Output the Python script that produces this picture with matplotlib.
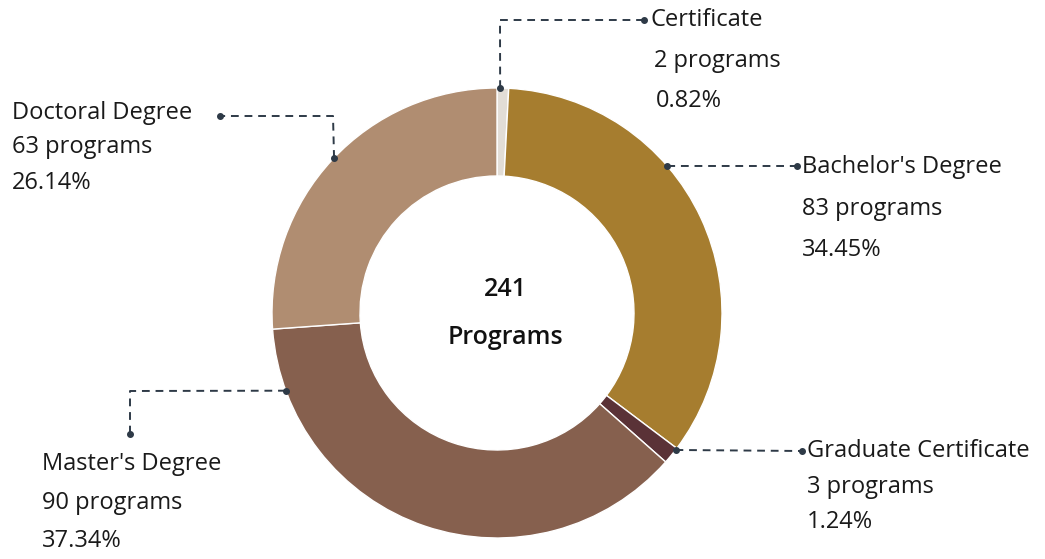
import numpy as np
import matplotlib.pyplot as plt

plt.rcParams['font.family'] = ['Open Sans', 'DejaVu Sans']

# data
categories = ["Certificate", "Bachelor's Degree", "Graduate Certificate",
              "Master's Degree", "Doctoral Degree"]
programs = [2, 83, 3, 90, 63]
percents = ["0.82%", "34.45%", "1.24%", "37.34%", "26.14%"]
colors = ["#E2DDD6", "#A67D2F", "#5A3237", "#86604E", "#B08D71"]
total_label = "241"

W, H = 1045, 559
cx, cy = 497, H - 313
R, ring = 225, 88

fig = plt.figure(figsize=(W / 100, H / 100), dpi=100)
ax = fig.add_axes([0, 0, 1, 1])

ax.pie(programs, colors=colors, startangle=90, counterclock=False,
       center=(cx, cy), radius=R, frame=True,
       wedgeprops=dict(width=ring, edgecolor="white", linewidth=1))

ax.set_xlim(0, W)
ax.set_ylim(0, H)
ax.set_aspect("equal")
ax.axis("off")

ax.text(cx + 8, H - 289, total_label, ha="center", va="center",
        fontsize=18, fontweight="semibold", color="#111111")
ax.text(cx + 8, H - 337, "Programs", ha="center", va="center",
        fontsize=18, fontweight="semibold", color="#111111")

# connector layout: anchor angle on ring, elbow path, end dot, text x, text rows y
anchor_deg = [89.2, 40.8, -37.5, 200.2, 136.4]
paths = [
    [(500, 20), (644, 20)],
    [(797, 166)],
    [(802, 451)],
    [(130, 391), (130, 434)],
    [(333, 116), (220, 116)],
]
text_x = [[650, 654, 656], [802, 802, 802], [807, 807, 807],
          [42, 42, 42], [12, 12, 12]]
text_y = [[20, 61, 101], [167, 209, 250], [451, 487, 522],
          [464, 503, 541], [113, 147, 183]]

line_col = "#2E3A47"
for i, name in enumerate(categories):
    a = np.deg2rad(anchor_deg[i])
    x0 = cx + R * np.cos(a)
    y0 = cy + R * np.sin(a)
    xs = [x0] + [p[0] for p in paths[i]]
    ys = [y0] + [H - p[1] for p in paths[i]]
    ax.plot(xs, ys, color=line_col, lw=1.4, ls=(0, (4, 3)))
    ax.plot([xs[0], xs[-1]], [ys[0], ys[-1]], "o", color=line_col, ms=4)
    rows = [name, f"{programs[i]} programs", percents[i]]
    for tx, ty, s in zip(text_x[i], text_y[i], rows):
        ax.text(tx, H - ty, s, ha="left", va="center", fontsize=17,
                color="#1A1A1A")

plt.savefig("out.png", dpi=100)
